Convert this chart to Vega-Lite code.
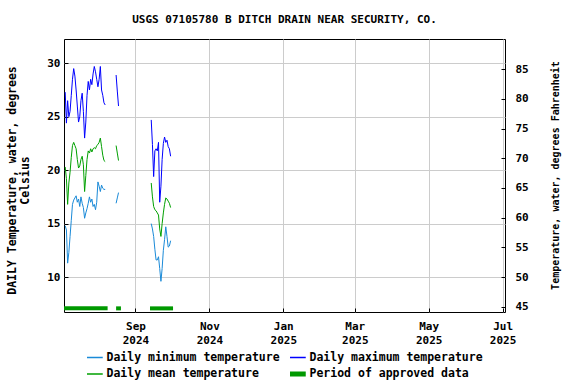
{
  "$schema": "https://vega.github.io/schema/vega-lite/v6.json",
  "width": 441,
  "height": 273,
  "autosize": "none",
  "padding": {"left": 64, "top": 39, "right": 71, "bottom": 72},
  "config": {
    "font": "DejaVu Sans Mono",
    "view": {"stroke": "black", "strokeWidth": 1},
    "axis": {
      "labelFont": "DejaVu Sans Mono", "labelFontWeight": "bold", "labelFontSize": 11, "labelColor": "black",
      "titleFont": "DejaVu Sans Mono", "titleFontWeight": "bold", "titleColor": "black",
      "domain": false, "tickColor": "black", "gridColor": "#cccccc", "gridWidth": 1
    }
  },
  "title": {"text": "USGS 07105780 B DITCH DRAIN NEAR SECURITY, CO.", "font": "DejaVu Sans Mono", "fontSize": 11, "fontWeight": "bold", "color": "black", "anchor": "middle", "offset": 14},
  "datasets": {
    "temps": [
      {"d":"2024-07-05","s":1,"min":14.8,"mean":20.3,"max":27.3},
      {"d":"2024-07-06","s":1,"min":14.4,"mean":19.2,"max":24.4},
      {"d":"2024-07-07","s":1,"min":11.3,"mean":16.8,"max":26.5},
      {"d":"2024-07-08","s":1,"min":12.3,"mean":18.8,"max":25.0},
      {"d":"2024-07-09","s":1,"min":13.8,"mean":19.8,"max":25.5},
      {"d":"2024-07-10","s":1,"min":15.3,"mean":21.2,"max":27.0},
      {"d":"2024-07-11","s":1,"min":16.8,"mean":22.3,"max":28.5},
      {"d":"2024-07-12","s":1,"min":17.2,"mean":22.6,"max":29.5},
      {"d":"2024-07-13","s":1,"min":17.4,"mean":22.3,"max":28.8},
      {"d":"2024-07-14","s":1,"min":17.6,"mean":22.0,"max":27.5},
      {"d":"2024-07-15","s":1,"min":17.0,"mean":21.0,"max":26.0},
      {"d":"2024-07-16","s":1,"min":17.3,"mean":20.2,"max":24.5},
      {"d":"2024-07-17","s":1,"min":16.6,"mean":20.4,"max":25.0},
      {"d":"2024-07-18","s":1,"min":17.5,"mean":21.0,"max":26.5},
      {"d":"2024-07-19","s":1,"min":16.9,"mean":21.3,"max":27.2},
      {"d":"2024-07-20","s":1,"min":16.5,"mean":20.5,"max":25.5},
      {"d":"2024-07-21","s":1,"min":15.5,"mean":18.0,"max":23.0},
      {"d":"2024-07-22","s":1,"min":16.0,"mean":19.5,"max":24.5},
      {"d":"2024-07-23","s":1,"min":16.4,"mean":21.0,"max":27.0},
      {"d":"2024-07-24","s":1,"min":16.9,"mean":21.8,"max":28.3},
      {"d":"2024-07-25","s":1,"min":17.5,"mean":21.6,"max":27.5},
      {"d":"2024-07-26","s":1,"min":17.0,"mean":22.0,"max":28.5},
      {"d":"2024-07-27","s":1,"min":17.3,"mean":21.7,"max":28.0},
      {"d":"2024-07-28","s":1,"min":16.6,"mean":22.0,"max":29.0},
      {"d":"2024-07-29","s":1,"min":16.8,"mean":22.1,"max":29.7},
      {"d":"2024-07-30","s":1,"min":16.3,"mean":22.0,"max":29.2},
      {"d":"2024-07-31","s":1,"min":17.0,"mean":22.3,"max":28.5},
      {"d":"2024-08-01","s":1,"min":18.9,"mean":22.4,"max":27.8},
      {"d":"2024-08-02","s":1,"min":18.5,"mean":22.6,"max":28.5},
      {"d":"2024-08-03","s":1,"min":18.0,"mean":23.0,"max":29.7},
      {"d":"2024-08-04","s":1,"min":18.6,"mean":22.2,"max":27.5},
      {"d":"2024-08-05","s":1,"min":18.3,"mean":21.4,"max":27.0},
      {"d":"2024-08-06","s":1,"min":18.2,"mean":20.9,"max":26.3},
      {"d":"2024-08-07","s":1,"min":18.2,"mean":20.8,"max":26.1},
      {"d":"2024-08-16","s":2,"min":16.9,"mean":22.3,"max":28.9},
      {"d":"2024-08-17","s":2,"min":17.4,"mean":21.6,"max":27.4},
      {"d":"2024-08-18","s":2,"min":17.9,"mean":20.9,"max":26.0},
      {"d":"2024-09-14","s":3,"min":15.0,"mean":18.8,"max":24.7},
      {"d":"2024-09-15","s":3,"min":14.5,"mean":17.5,"max":22.4},
      {"d":"2024-09-16","s":3,"min":13.8,"mean":16.6,"max":19.4},
      {"d":"2024-09-17","s":3,"min":12.6,"mean":16.3,"max":21.8},
      {"d":"2024-09-18","s":3,"min":11.6,"mean":16.2,"max":22.0},
      {"d":"2024-09-19","s":3,"min":11.6,"mean":16.0,"max":21.8},
      {"d":"2024-09-20","s":3,"min":11.9,"mean":15.8,"max":22.6},
      {"d":"2024-09-21","s":3,"min":10.8,"mean":14.5,"max":17.0},
      {"d":"2024-09-22","s":3,"min":9.6,"mean":13.8,"max":18.5},
      {"d":"2024-09-23","s":3,"min":10.8,"mean":15.0,"max":21.0},
      {"d":"2024-09-24","s":3,"min":12.5,"mean":16.0,"max":22.5},
      {"d":"2024-09-25","s":3,"min":13.5,"mean":16.8,"max":23.1},
      {"d":"2024-09-26","s":3,"min":14.7,"mean":17.4,"max":22.6},
      {"d":"2024-09-27","s":3,"min":13.8,"mean":17.3,"max":22.8},
      {"d":"2024-09-28","s":3,"min":12.8,"mean":17.1,"max":22.2},
      {"d":"2024-09-29","s":3,"min":12.9,"mean":16.9,"max":22.0},
      {"d":"2024-09-30","s":3,"min":13.4,"mean":16.5,"max":21.3}
    ],
    "approved": [
      {"start":"2024-07-04","end":"2024-08-09"},
      {"start":"2024-08-16","end":"2024-08-20"},
      {"start":"2024-09-13","end":"2024-10-02"}
    ]
  },
  "layer": [
    {
      "data": {"name": "temps"},
      "transform": [{"fold": ["min", "max", "mean"], "as": ["series", "value"]}],
      "mark": {"type": "line", "strokeWidth": 1},
      "encoding": {
        "x": {
          "field": "d", "type": "temporal",
          "scale": {"type": "utc", "domain": [{"year": 2024, "month": 7, "date": 4, "utc": true}, {"year": 2025, "month": 7, "date": 3, "utc": true}]},
          "axis": {
            "title": null, "grid": true, "tickSize": -4, "labelPadding": 12, "labelLineHeight": 14,
            "values": [
              {"year": 2024, "month": 9, "date": 1, "utc": true},
              {"year": 2024, "month": 11, "date": 1, "utc": true},
              {"year": 2025, "month": 1, "date": 1, "utc": true},
              {"year": 2025, "month": 3, "date": 1, "utc": true},
              {"year": 2025, "month": 5, "date": 1, "utc": true},
              {"year": 2025, "month": 7, "date": 1, "utc": true}
            ],
            "labelExpr": "[utcFormat(datum.value, '%b'), utcFormat(datum.value, '%Y')]"
          }
        },
        "y": {
          "field": "value", "type": "quantitative",
          "scale": {"domain": [6.73, 32.27], "nice": false, "zero": false},
          "axis": {
            "orient": "left", "values": [10, 15, 20, 25, 30], "grid": true, "tickSize": -4, "labelPadding": 8,
            "title": ["DAILY Temperature, water, degrees", "Celsius"], "titleFontSize": 11.5,
            "titleAngle": 270, "titleX": -52, "titleY": 141, "titleAlign": "center", "titleBaseline": "middle"
          }
        },
        "color": {
          "field": "series", "type": "nominal",
          "scale": {"domain": ["min", "max", "mean", "approved"], "range": ["#1a8ad8", "#0000ff", "#00a000", "#009900"]},
          "legend": {
            "orient": "none", "direction": "horizontal", "legendX": 23, "legendY": 312, "columns": 2, "title": null,
            "symbolType": "stroke", "symbolSize": 400, "symbolStrokeWidth": 1.5,
            "labelFont": "DejaVu Sans Mono", "labelFontWeight": "bold", "labelFontSize": 11.5, "labelColor": "black",
            "labelOffset": 8, "labelLimit": 0, "columnPadding": 10, "rowPadding": 3.4, "clipHeight": 13, "padding": 0,
            "labelExpr": "{'min':'Daily minimum temperature','max':'Daily maximum temperature','mean':'Daily mean temperature','approved':'Period of approved data'}[datum.value]",
            "encode": {"symbols": {"update": {"strokeWidth": {"signal": "datum.value === 'approved' ? 5 : 1.5"}}}}
          }
        },
        "detail": {"field": "s", "type": "nominal"}
      }
    },
    {
      "data": {"name": "approved"},
      "mark": {"type": "rule", "strokeWidth": 4, "strokeCap": "butt"},
      "encoding": {
        "x": {"field": "start", "type": "temporal"},
        "x2": {"field": "end"},
        "y": {"datum": 7.07, "type": "quantitative", "scale": {"domain": [6.73, 32.27], "nice": false, "zero": false}, "axis": null},
        "color": {"datum": "approved"}
      }
    },
    {
      "data": {"values": [{}]},
      "mark": {"type": "rule", "opacity": 0},
      "encoding": {
        "y": {
          "datum": 45, "type": "quantitative",
          "scale": {"domain": [44.11, 90.09], "nice": false, "zero": false},
          "axis": {
            "orient": "right", "values": [45, 50, 55, 60, 65, 70, 75, 80, 85], "grid": false, "tickSize": -4, "labelPadding": 14,
            "title": "Temperature, water, degrees Fahrenheit", "titleFontSize": 10,
            "titleAngle": 270, "titleX": 50, "titleY": 136, "titleAlign": "center", "titleBaseline": "middle"
          }
        }
      }
    }
  ],
  "resolve": {"scale": {"y": "independent"}}
}
